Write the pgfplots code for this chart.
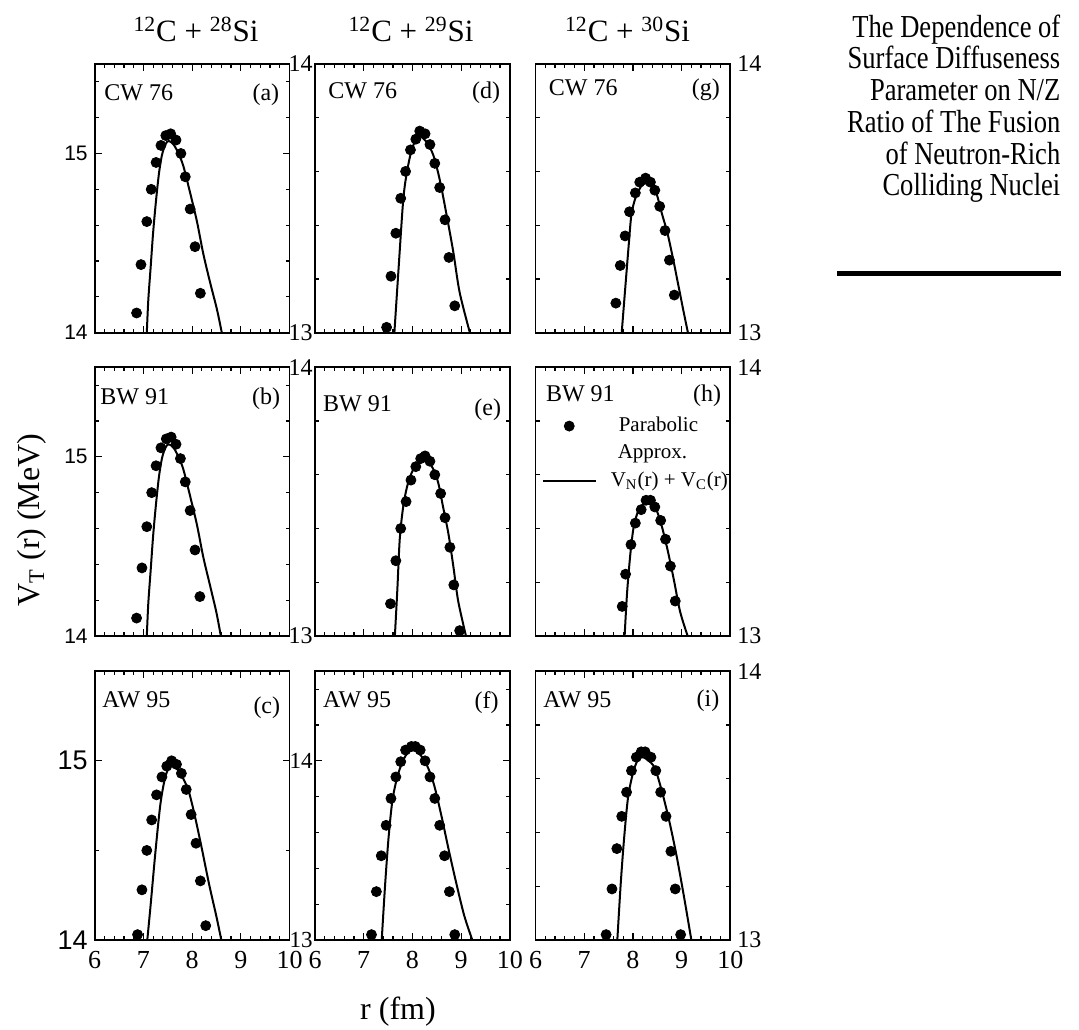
\documentclass[border=0pt]{standalone}
\usepackage{fontspec}
\setmainfont{Liberation Serif}
\newfontfamily\arialfont{Liberation Sans}
\newfontfamily\condfont[FakeStretch=0.83]{Liberation Serif}
\usepackage{pgfplots}
\pgfplotsset{compat=1.18}
\tikzset{lab/.style={font=\fontsize{12}{14}\selectfont, inner sep=0pt}}
\pgfplotsset{
  panel/.style={
    scale only axis, width=97.4pt, height=134.4pt, anchor=south west,
    xmin=6, xmax=10, xtick={6,7,8,9,10}, minor x tick num=4, xticklabels={},
    tick align=inside, major tick length=3.5pt, minor tick length=2pt,
    axis line style={line width=0.85pt},
    every tick/.append style={line width=0.6pt, black},
    /pgf/number format/assume math mode=true,
    clip marker paths=true,
    yticklabel style={font=\fontsize{12}{14}\selectfont},
    xticklabel style={font=\fontsize{13}{15}\selectfont, inner xsep=0pt, yshift=-2.3pt},
  },
  col1/.style={ymin=14, ymax=15.5, ytick={14,15},
    minor ytick={14.2,14.4,14.6,14.8,15.2,15.4},
    yticklabel style={font=\arialfont\fontsize{10.5}{12}\selectfont}},
  col2/.style={ymin=13, ymax=14, ytick={13,14}, minor ytick={13.2,13.4,13.6,13.8},
    yticklabel style={inner xsep=1pt}},
  col3/.style={ymin=13, ymax=14, ytick={13,14}, minor ytick={13.2,13.4,13.6,13.8},
    ytick pos=both, yticklabel pos=right},
  bottomrow/.style={xticklabels={6,7,8,9,10}},
  dots/.style={only marks, mark=*, mark size=2.5pt, black, mark options={solid, fill=black}},
  curve/.style={black, line width=1pt, smooth, no marks},
  dotlegend/.style={legend image code/.code={\fill[black] (13.25pt,0pt) circle (2.5pt);}},
  linelegend/.style={legend image code/.code={\draw[black, line width=1pt] (0pt,0pt) -- (26.5pt,0pt);}},
}
% #1 left text, #2 right text, #3 x of left, #4 y of left, #5 x of right, #6 y of right
\newcommand{\plabels}[6]{%
  \node[lab, anchor=base west] at (rel axis cs:#3,#4) {#1};
  \node[lab, anchor=base east] at (rel axis cs:#5,#6) {#2};}
\begin{document}
\begin{tikzpicture}
\useasboundingbox (0,0) rectangle (539.5pt,514.5pt);
% ---------- column 1 ----------
\begin{axis}[panel, col1, at={(47.35pt,348.15pt)}]
\addplot[dots] table {
6.86 14.11
6.95 14.38
7.07 14.62
7.16 14.80
7.26 14.95
7.36 15.045
7.46 15.10
7.56 15.11
7.67 15.075
7.77 15.00
7.86 14.87
7.96 14.69
8.06 14.48
8.17 14.22
};
\addplot[curve] table {
7.07 14.00
7.10 14.18
7.15 14.37
7.20 14.56
7.26 14.74
7.32 14.89
7.38 14.99
7.45 15.05
7.52 15.07
7.62 15.05
7.72 15.00
7.82 14.93
7.96 14.78
8.10 14.62
8.23 14.44
8.37 14.28
8.51 14.13
8.61 14.00
};
\plabels{CW 76}{(a)}{0.048}{0.865}{0.949}{0.865}
\end{axis}
\begin{axis}[panel, col1, at={(47.35pt,196.5pt)}]
\addplot[dots] table {
6.86 14.10
6.97 14.38
7.07 14.61
7.17 14.80
7.26 14.95
7.36 15.05
7.47 15.10
7.57 15.11
7.67 15.07
7.76 14.99
7.86 14.86
7.96 14.70
8.06 14.48
8.16 14.22
};
\addplot[curve] table {
7.07 14.00
7.10 14.18
7.15 14.37
7.20 14.56
7.26 14.74
7.32 14.89
7.38 14.99
7.45 15.05
7.52 15.07
7.62 15.05
7.72 15.00
7.82 14.93
7.96 14.78
8.10 14.62
8.23 14.44
8.37 14.28
8.50 14.13
8.59 14.00
};
\plabels{BW 91}{(b)}{0.027}{0.862}{0.954}{0.86}
\end{axis}
\begin{axis}[panel, col1, bottomrow, at={(47.35pt,44.5pt)}, minor ytick={14.5},
  yticklabel style={font=\arialfont\fontsize{13.5}{15}\selectfont}]
\addplot[dots] table {
6.88 14.03
6.97 14.28
7.07 14.50
7.17 14.67
7.27 14.81
7.38 14.91
7.48 14.97
7.58 15.00
7.68 14.98
7.78 14.93
7.88 14.84
7.98 14.70
8.08 14.54
8.17 14.33
8.28 14.08
};
\addplot[curve] table {
7.08 14.00
7.15 14.20
7.25 14.50
7.35 14.76
7.45 14.91
7.55 14.97
7.67 14.96
7.80 14.91
7.93 14.83
8.05 14.70
8.20 14.51
8.35 14.31
8.50 14.13
8.60 14.00
};
\plabels{AW 95}{(c)}{0.037}{0.866}{0.954}{0.844}
\end{axis}
% ---------- column 2 ----------
\begin{axis}[panel, col2, at={(157.5pt,348.15pt)}]
\addplot[dots] table {
7.47 13.02
7.56 13.21
7.66 13.37
7.76 13.50
7.86 13.60
7.96 13.68
8.07 13.72
8.15 13.75
8.26 13.74
8.36 13.70
8.46 13.63
8.56 13.54
8.67 13.42
8.75 13.28
8.87 13.10
};
\addplot[curve] table {
7.63 13.00
7.72 13.25
7.81 13.49
7.88 13.59
7.97 13.67
8.05 13.71
8.15 13.73
8.29 13.71
8.43 13.66
8.56 13.57
8.70 13.44
8.84 13.30
8.97 13.15
9.18 13.00
};
\plabels{CW 76}{(d)}{0.067}{0.87}{0.952}{0.87}
\end{axis}
\begin{axis}[panel, col2, at={(157.5pt,196.5pt)}]
\addplot[dots] table {
7.55 13.12
7.66 13.28
7.76 13.40
7.87 13.50
7.97 13.58
8.07 13.63
8.17 13.66
8.26 13.67
8.36 13.65
8.46 13.60
8.58 13.53
8.67 13.44
8.77 13.33
8.85 13.19
8.97 13.02
};
\addplot[curve] table {
7.64 13.00
7.69 13.17
7.74 13.36
7.81 13.48
7.89 13.555
7.98 13.605
8.09 13.64
8.21 13.657
8.32 13.65
8.43 13.62
8.53 13.57
8.63 13.48
8.74 13.38
8.84 13.26
8.94 13.13
9.10 13.00
};
\plabels{BW 91}{(e)}{0.04}{0.837}{0.957}{0.822}
\end{axis}
\begin{axis}[panel, col2, bottomrow, at={(157.5pt,44.5pt)}, ymax=14.5,
  minor ytick={13.2,13.4,13.6,13.8,14.2,14.4},
  yticklabel style={font=\fontsize{11.5}{13}\selectfont}]
\addplot[dots] table {
7.16 13.03
7.26 13.27
7.36 13.47
7.46 13.64
7.56 13.79
7.66 13.91
7.76 13.995
7.86 14.06
7.98 14.08
8.06 14.08
8.16 14.06
8.26 14.00
8.36 13.91
8.46 13.79
8.56 13.64
8.66 13.47
8.76 13.27
8.87 13.03
};
\addplot[curve] table {
7.37 13.00
7.44 13.31
7.51 13.57
7.59 13.78
7.69 13.91
7.79 13.99
7.89 14.04
8.01 14.06
8.14 14.04
8.29 13.98
8.44 13.87
8.59 13.70
8.74 13.51
8.89 13.33
9.06 13.14
9.23 13.00
};
\plabels{AW 95}{(f)}{0.04}{0.866}{0.944}{0.86}
\end{axis}
% ---------- column 3 ----------
\begin{axis}[panel, col3, at={(267.75pt,348.15pt)}]
\addplot[dots] table {
7.65 13.11
7.74 13.25
7.84 13.36
7.93 13.45
8.05 13.52
8.14 13.56
8.26 13.575
8.36 13.56
8.45 13.53
8.55 13.47
8.66 13.38
8.75 13.27
8.85 13.14
};
\addplot[curve] table {
7.77 13.00
7.84 13.16
7.92 13.34
7.97 13.44
8.05 13.50
8.17 13.545
8.27 13.556
8.37 13.55
8.48 13.52
8.60 13.44
8.71 13.37
8.83 13.27
8.94 13.17
9.05 13.07
9.13 13.00
};
\plabels{CW 76}{(g)}{0.067}{0.882}{0.949}{0.882}
\end{axis}
\begin{axis}[panel, col3, at={(267.75pt,196.5pt)},
  legend style={at={(0.03,0.83)}, anchor=north west, draw=none, fill=none,
    font=\fontsize{10.5}{12}\selectfont, cells={anchor=west}, row sep=1pt,
    column sep=5pt, inner sep=0pt}]
\addplot[dots, dotlegend] table {
7.78 13.11
7.85 13.23
7.96 13.34
8.05 13.42
8.17 13.47
8.27 13.505
8.36 13.505
8.45 13.48
8.57 13.43
8.67 13.36
8.77 13.26
8.87 13.13
8.97 12.995
};
\addlegendentry{\hspace{4pt}Parabolic}
\addlegendimage{empty legend}
\addlegendentry{\hspace{3.5pt}Approx.}
\addplot[curve, linelegend] table {
7.83 13.00
7.88 13.16
7.95 13.31
8.02 13.41
8.12 13.47
8.22 13.49
8.32 13.50
8.43 13.49
8.56 13.43
8.70 13.33
8.84 13.21
8.97 13.09
9.125 13.00
};
\addlegendentry{V\textsubscript{N}(r) + V\textsubscript{C}(r)}
\plabels{BW 91}{(h)}{0.052}{0.874}{0.955}{0.874}
\end{axis}
\begin{axis}[panel, col3, bottomrow, at={(267.75pt,44.5pt)}]
\addplot[dots] table {
7.45 13.02
7.57 13.19
7.67 13.34
7.77 13.46
7.87 13.55
7.97 13.63
8.07 13.68
8.17 13.70
8.25 13.70
8.37 13.68
8.47 13.63
8.57 13.55
8.68 13.46
8.78 13.33
8.87 13.19
8.98 13.02
};
\addplot[curve] table {
7.68 13.00
7.75 13.21
7.82 13.38
7.90 13.53
8.00 13.62
8.10 13.67
8.20 13.68
8.30 13.67
8.45 13.64
8.60 13.55
8.75 13.44
8.90 13.31
9.05 13.16
9.20 13.00
};
\plabels{AW 95}{(i)}{0.038}{0.866}{0.946}{0.87}
\end{axis}
% ---------- titles and labels ----------
\node[anchor=base, font=\fontsize{15.5}{18}\selectfont] at (98pt,493.65pt) {\textsuperscript{12}C + \textsuperscript{28}Si};
\node[anchor=base, font=\fontsize{15.5}{18}\selectfont] at (205.5pt,493.65pt) {\textsuperscript{12}C + \textsuperscript{29}Si};
\node[anchor=base, font=\fontsize{15.5}{18}\selectfont] at (313.75pt,493.65pt) {\textsuperscript{12}C + \textsuperscript{30}Si};
\node[anchor=base, rotate=90, font=\fontsize{16}{18}\selectfont] at (19.5pt,254.5pt) {V\textsubscript{T} (r) (MeV)};
\node[anchor=base, font=\fontsize{16}{18}\selectfont] at (199pt,5pt) {r (fm)};
% ---------- side text ----------
\begin{scope}[every node/.style={anchor=base east, inner sep=0pt, font=\condfont\fontsize{16}{16}\selectfont}]
\node at (530.35pt,495.85pt) {The Dependence of};
\node at (530.35pt,480.0pt) {Surface Diffuseness};
\node at (530.35pt,464.15pt) {Parameter on N/Z};
\node at (530.35pt,448.3pt) {Ratio of The Fusion};
\node at (530.35pt,432.45pt) {of Neutron-Rich};
\node at (530.35pt,416.6pt) {Colliding Nuclei};
\end{scope}
\draw[line width=2.5pt] (418.65pt,377.5pt) -- (530.35pt,377.5pt);
\end{tikzpicture}
\end{document}
